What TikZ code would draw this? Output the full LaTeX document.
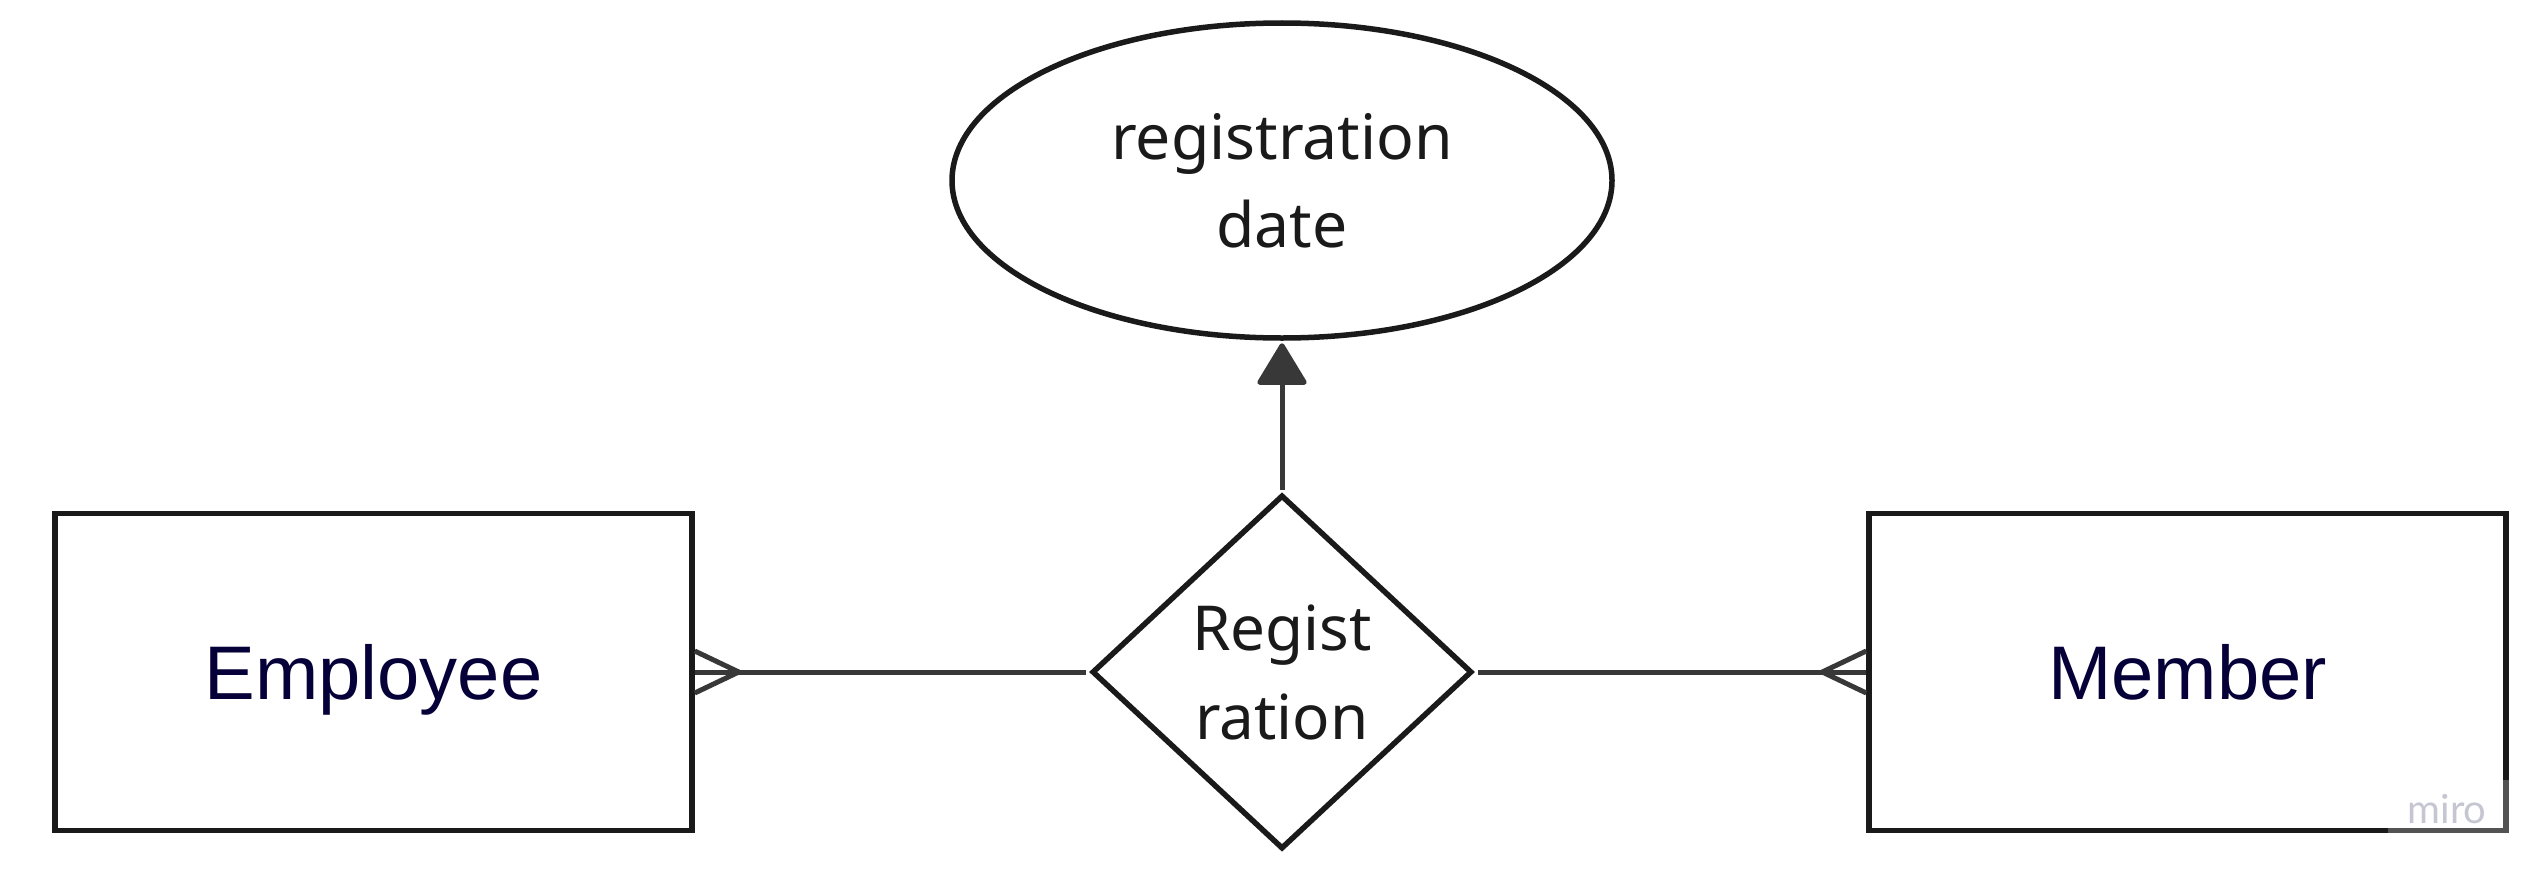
\documentclass[tikz,border=0pt]{standalone}
\usepackage{fontspec}
\setmainfont{Noto Sans}
\newfontfamily\arialfont{Liberation Sans}
\newfontfamily\wmfont{Lato}
\usetikzlibrary{shapes.geometric,arrows.meta}
\definecolor{stroke}{HTML}{1A1A1A}
\definecolor{conn}{HTML}{383838}
\definecolor{navy}{HTML}{050038}
\definecolor{wm}{HTML}{C6C6D2}
\begin{document}
\begin{tikzpicture}[x=1pt,y=-1pt,
  entity/.style={draw=stroke, line width=5.5pt, rectangle, inner sep=0pt,
    minimum width=637pt, minimum height=317pt, text depth=0pt,
    font=\arialfont\fontsize{76}{76}\selectfont, text=navy},
  attr/.style={draw=stroke, line width=5.5pt, ellipse, inner sep=0pt,
    minimum width=660pt, minimum height=315pt, align=center,
    font=\fontsize{62.5}{88}\selectfont, text=stroke},
  rel/.style={draw=stroke, line width=5.5pt, diamond, inner sep=0pt,
    minimum width=380pt, minimum height=354pt, align=center,
    font=\fontsize{62}{89}\selectfont, text=stroke},
  link/.style={draw=conn, line width=5pt}
]
\useasboundingbox (0,0) rectangle (2547,883);
\node[entity] (emp) at (373.5,672) {Employee};
\node[entity] (mem) at (2187.5,672) {Member};
\node[attr] (date) at (1282,180.5) {registration\\date};
\node[rel] (reg) at (1282,672) {Regist\\ration};

% connectors
\draw[link, shorten >=3pt] (emp.east) -- (reg.west);
\draw[link, line join=round] ([yshift=21pt]emp.east) -- ([xshift=44pt]emp.east) -- ([yshift=-21pt]emp.east);
\draw[link, shorten <=3pt] (reg.east) -- (mem.west);
\draw[link, line join=round] ([yshift=21pt]mem.west) -- ([xshift=-44pt]mem.west) -- ([yshift=-21pt]mem.west);
\draw[link, -{Triangle[width=52pt,length=44pt,round]}, shorten <=2.5pt, shorten >=2.5pt] (reg.north) -- (date.south);

% watermark
\fill[white, opacity=0.25] (2388,780) rectangle (2520,845);
\node[text=wm, font=\wmfont\fontsize{40}{40}\selectfont, inner sep=0pt] (wmark) at (2447,809) {miro};
\end{tikzpicture}
\end{document}
